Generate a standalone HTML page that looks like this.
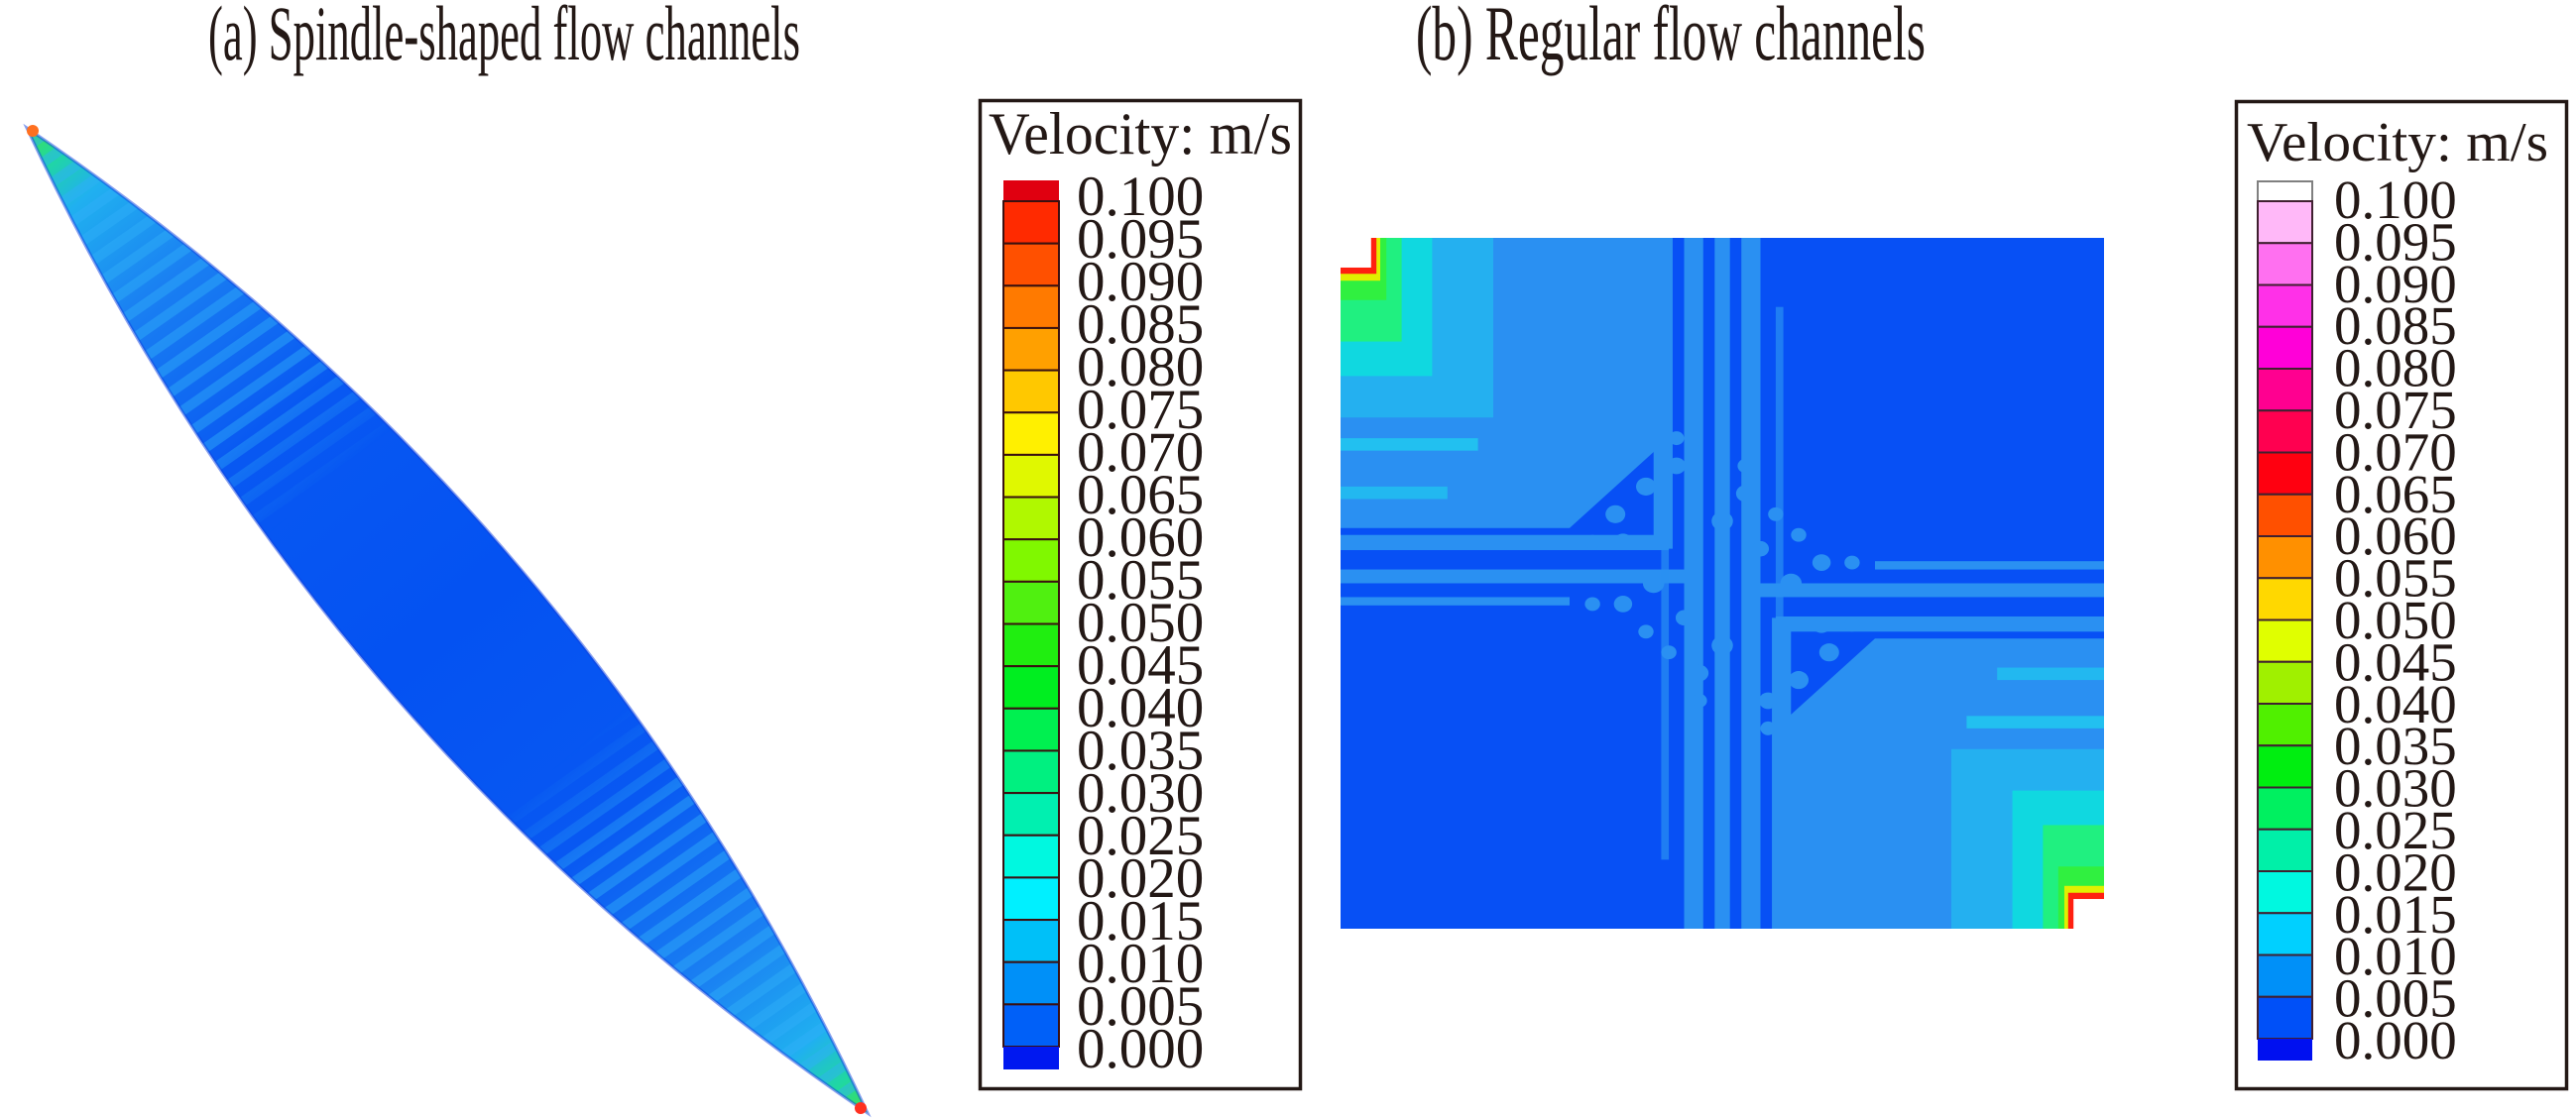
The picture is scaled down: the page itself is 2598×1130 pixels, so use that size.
<!DOCTYPE html>
<html><head><meta charset="utf-8"><style>
html,body{margin:0;padding:0;background:#fff;}
svg{display:block;}
text{font-family:"Liberation Serif",serif;fill:#231815;}
</style></head><body>
<svg width="2598" height="1130" viewBox="0 0 2598 1130" xmlns="http://www.w3.org/2000/svg">
<defs>
<clipPath id="spc"><path d="M27,129 Q588,509 875,1123 Q314,743 27,129 Z"/></clipPath>
<linearGradient id="spg" gradientUnits="userSpaceOnUse" x1="27" y1="129" x2="875" y2="1123">
<stop offset="0" stop-color="#40e050"/>
<stop offset="0.03" stop-color="#20d8a0"/>
<stop offset="0.07" stop-color="#20b0f0"/>
<stop offset="0.16" stop-color="#1a80f2"/>
<stop offset="0.3" stop-color="#0858f2"/>
<stop offset="0.5" stop-color="#0452f2"/>
<stop offset="0.7" stop-color="#0858f2"/>
<stop offset="0.84" stop-color="#1a80f2"/>
<stop offset="0.93" stop-color="#20b0f0"/>
<stop offset="0.97" stop-color="#20d8a0"/>
<stop offset="1" stop-color="#40e050"/>
</linearGradient>
<pattern id="stripes" patternUnits="userSpaceOnUse" width="22" height="22" patternTransform="rotate(-35)">
<rect width="22" height="10" fill="#30b0f8" opacity="0.45"/>
</pattern>
<linearGradient id="fadeMask" gradientUnits="userSpaceOnUse" x1="27" y1="129" x2="875" y2="1123">
<stop offset="0" stop-color="#fff"/><stop offset="0.28" stop-color="#fff"/>
<stop offset="0.36" stop-color="#000"/><stop offset="0.64" stop-color="#000"/>
<stop offset="0.72" stop-color="#fff"/><stop offset="1" stop-color="#fff"/>
</linearGradient>
<mask id="sm"><rect x="0" y="0" width="1000" height="1130" fill="url(#fadeMask)"/></mask>
</defs>

<text x="210" y="60" font-size="78" textLength="597" lengthAdjust="spacingAndGlyphs">(a) Spindle-shaped flow channels</text>
<text x="1428" y="60" font-size="78" textLength="514" lengthAdjust="spacingAndGlyphs">(b) Regular flow channels</text>

<path d="M27,129 Q588,509 875,1123 Q314,743 27,129 Z" fill="url(#spg)"/>
<g clip-path="url(#spc)" mask="url(#sm)"><rect x="0" y="100" width="900" height="1030" fill="url(#stripes)"/></g>
<path d="M27,129 Q588,509 875,1123 Q314,743 27,129 Z" fill="none" stroke="#1040e0" stroke-width="3" opacity="0.5"/>
<circle cx="33" cy="132" r="6" fill="#ff7020"/>
<circle cx="868" cy="1118" r="6" fill="#ff3020"/>

<g transform="translate(1352,240) scale(770,697)">
<rect x="0" y="0" width="1" height="1" fill="#0750f5"/>
<g id="ul">
<polygon points="0,0 0.42,0 0.42,0.3 0.3,0.42 0,0.42" fill="#2a90f2"/>
<rect x="0" y="0" width="0.2" height="0.26" fill="#24b0f0"/>
<rect x="0" y="0.29" width="0.18" height="0.018" fill="#22c0f0"/>
<rect x="0" y="0.36" width="0.14" height="0.018" fill="#22b8f0"/>
<rect x="0" y="0" width="0.12" height="0.2" fill="#10d8e0"/>
<rect x="0" y="0" width="0.08" height="0.15" fill="#20f080"/>
<rect x="0" y="0" width="0.06" height="0.09" fill="#30f040"/>
<rect x="0" y="0" width="0.052" height="0.062" fill="#e0f000"/>
<rect x="0" y="0" width="0.047" height="0.052" fill="#ff2010"/>
<rect x="0" y="0" width="0.04" height="0.043" fill="#fff"/>
<rect x="0.41" y="0" width="0.025" height="0.45" fill="#2a90f2"/>
<rect x="0" y="0.43" width="0.43" height="0.022" fill="#2a90f2"/>
<rect x="0" y="0.48" width="0.45" height="0.02" fill="#2a90f2"/>
<rect x="0" y="0.52" width="0.3" height="0.012" fill="#2a90f2"/>
<rect x="0.45" y="0" width="0.025" height="1" fill="#2a90f2"/>
<rect x="0.49" y="0" width="0.018" height="1" fill="#2a90f2"/>
<rect x="0.53" y="0" width="0.016" height="0.7" fill="#2a90f2"/>
<rect x="0.57" y="0.1" width="0.01" height="0.45" fill="#2a90f2" opacity="0.7"/>
<g fill="#2a90f2">
<circle cx="0.4" cy="0.36" r="0.013"/><circle cx="0.36" cy="0.4" r="0.013"/>
<circle cx="0.37" cy="0.44" r="0.012"/><circle cx="0.33" cy="0.44" r="0.01"/>
<circle cx="0.44" cy="0.33" r="0.012"/><circle cx="0.44" cy="0.29" r="0.01"/>
<circle cx="0.41" cy="0.5" r="0.014"/><circle cx="0.5" cy="0.41" r="0.014"/>
<circle cx="0.37" cy="0.53" r="0.012"/><circle cx="0.53" cy="0.37" r="0.012"/>
<circle cx="0.33" cy="0.53" r="0.01"/><circle cx="0.53" cy="0.33" r="0.01"/>
<circle cx="0.45" cy="0.55" r="0.011"/><circle cx="0.55" cy="0.45" r="0.011"/>
<circle cx="0.4" cy="0.57" r="0.01"/><circle cx="0.57" cy="0.4" r="0.01"/>
</g>
</g>
<use href="#ul" transform="rotate(180 0.5 0.5)"/>
</g>

<rect x="988.5" y="101.5" width="323" height="997" fill="#fff" stroke="#231815" stroke-width="3.5"/>
<text x="997" y="155" font-size="60" textLength="306" lengthAdjust="spacingAndGlyphs">Velocity: m/s</text>
<rect x="1012" y="182" width="56" height="22" fill="#e00010"/>
<g stroke="#3a1010" stroke-width="2">
<rect x="1012" y="203.00" width="56" height="42.65" fill="#ff2a00"/>
<rect x="1012" y="245.65" width="56" height="42.65" fill="#ff5000"/>
<rect x="1012" y="288.30" width="56" height="42.65" fill="#ff7a00"/>
<rect x="1012" y="330.95" width="56" height="42.65" fill="#ffa000"/>
<rect x="1012" y="373.60" width="56" height="42.65" fill="#ffc800"/>
<rect x="1012" y="416.25" width="56" height="42.65" fill="#fff000"/>
<rect x="1012" y="458.90" width="56" height="42.65" fill="#e0f800"/>
<rect x="1012" y="501.55" width="56" height="42.65" fill="#b0f800"/>
<rect x="1012" y="544.20" width="56" height="42.65" fill="#80f800"/>
<rect x="1012" y="586.85" width="56" height="42.65" fill="#50f010"/>
<rect x="1012" y="629.50" width="56" height="42.65" fill="#20ee10"/>
<rect x="1012" y="672.15" width="56" height="42.65" fill="#00ee20"/>
<rect x="1012" y="714.80" width="56" height="42.65" fill="#00f050"/>
<rect x="1012" y="757.45" width="56" height="42.65" fill="#00f080"/>
<rect x="1012" y="800.10" width="56" height="42.65" fill="#00f0b0"/>
<rect x="1012" y="842.75" width="56" height="42.65" fill="#00f8e0"/>
<rect x="1012" y="885.40" width="56" height="42.65" fill="#00f0ff"/>
<rect x="1012" y="928.05" width="56" height="42.65" fill="#00c0f8"/>
<rect x="1012" y="970.70" width="56" height="42.65" fill="#0090f8"/>
<rect x="1012" y="1013.35" width="56" height="42.65" fill="#0060f8"/>
</g>
<rect x="1012" y="1056" width="56" height="23" fill="#0018f0"/>
<g font-size="57">
<text x="1086" y="217">0.100</text><text x="1086" y="260">0.095</text><text x="1086" y="303">0.090</text>
<text x="1086" y="346">0.085</text><text x="1086" y="389">0.080</text><text x="1086" y="432">0.075</text>
<text x="1086" y="475">0.070</text><text x="1086" y="518">0.065</text><text x="1086" y="561">0.060</text>
<text x="1086" y="604">0.055</text><text x="1086" y="647">0.050</text><text x="1086" y="690">0.045</text>
<text x="1086" y="733">0.040</text><text x="1086" y="776">0.035</text><text x="1086" y="819">0.030</text>
<text x="1086" y="862">0.025</text><text x="1086" y="905">0.020</text><text x="1086" y="948">0.015</text>
<text x="1086" y="991">0.010</text><text x="1086" y="1034">0.005</text><text x="1086" y="1077">0.000</text>
</g>

<rect x="2255.5" y="102.5" width="333" height="996" fill="#fff" stroke="#231815" stroke-width="3.5"/>
<text x="2266" y="162" font-size="56" textLength="304" lengthAdjust="spacingAndGlyphs">Velocity: m/s</text>
<rect x="2277" y="183" width="55" height="20" fill="#fff" stroke="#808080" stroke-width="2"/>
<g stroke="#402030" stroke-width="2">
<rect x="2277" y="203.00" width="55" height="42.25" fill="#ffb8f8"/>
<rect x="2277" y="245.25" width="55" height="42.25" fill="#ff70f0"/>
<rect x="2277" y="287.50" width="55" height="42.25" fill="#ff30e8"/>
<rect x="2277" y="329.75" width="55" height="42.25" fill="#ff00d8"/>
<rect x="2277" y="372.00" width="55" height="42.25" fill="#ff0090"/>
<rect x="2277" y="414.25" width="55" height="42.25" fill="#ff0050"/>
<rect x="2277" y="456.50" width="55" height="42.25" fill="#ff0010"/>
<rect x="2277" y="498.75" width="55" height="42.25" fill="#ff5000"/>
<rect x="2277" y="541.00" width="55" height="42.25" fill="#ff9000"/>
<rect x="2277" y="583.25" width="55" height="42.25" fill="#ffd800"/>
<rect x="2277" y="625.50" width="55" height="42.25" fill="#e0ff00"/>
<rect x="2277" y="667.75" width="55" height="42.25" fill="#a0f000"/>
<rect x="2277" y="710.00" width="55" height="42.25" fill="#50f000"/>
<rect x="2277" y="752.25" width="55" height="42.25" fill="#00ee10"/>
<rect x="2277" y="794.50" width="55" height="42.25" fill="#00f060"/>
<rect x="2277" y="836.75" width="55" height="42.25" fill="#00f0a8"/>
<rect x="2277" y="879.00" width="55" height="42.25" fill="#00f8e0"/>
<rect x="2277" y="921.25" width="55" height="42.25" fill="#00d0ff"/>
<rect x="2277" y="963.50" width="55" height="42.25" fill="#0090f8"/>
<rect x="2277" y="1005.75" width="55" height="42.25" fill="#0050f8"/>
</g>
<rect x="2277" y="1048" width="55" height="22" fill="#0010f0"/>
<g font-size="55">
<text x="2354" y="220">0.100</text><text x="2354" y="262.4">0.095</text><text x="2354" y="304.8">0.090</text>
<text x="2354" y="347.2">0.085</text><text x="2354" y="389.6">0.080</text><text x="2354" y="432">0.075</text>
<text x="2354" y="474.4">0.070</text><text x="2354" y="516.8">0.065</text><text x="2354" y="559.2">0.060</text>
<text x="2354" y="601.6">0.055</text><text x="2354" y="644">0.050</text><text x="2354" y="686.4">0.045</text>
<text x="2354" y="728.8">0.040</text><text x="2354" y="771.2">0.035</text><text x="2354" y="813.6">0.030</text>
<text x="2354" y="856">0.025</text><text x="2354" y="898.4">0.020</text><text x="2354" y="940.8">0.015</text>
<text x="2354" y="983.2">0.010</text><text x="2354" y="1025.6">0.005</text><text x="2354" y="1068">0.000</text>
</g>
</svg>
</body></html>
